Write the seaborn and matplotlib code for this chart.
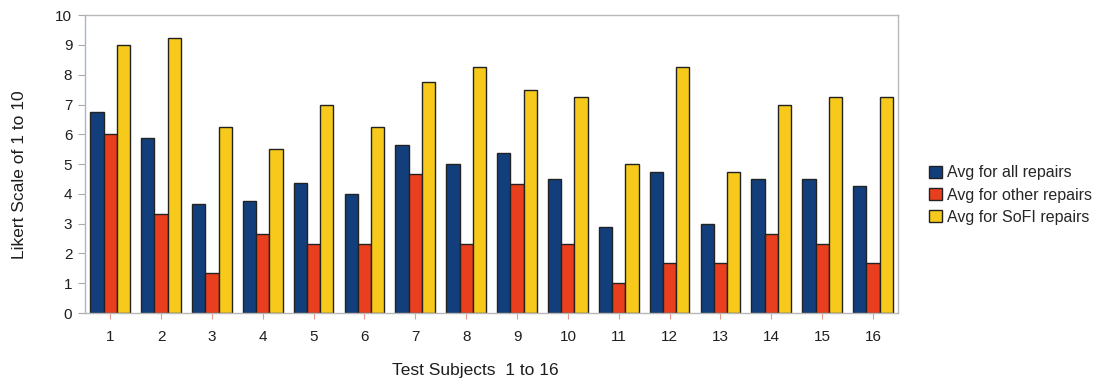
import matplotlib
matplotlib.use("Agg")
import matplotlib.pyplot as plt
import seaborn as sns
import pandas as pd

subjects = [str(i) for i in range(1, 17)]
avg_all = [6.75, 5.875, 3.67, 3.75, 4.375, 4.0, 5.625, 5.0, 5.375, 4.5, 2.875, 4.75, 3.0, 4.5, 4.5, 4.25]
avg_other = [6.0, 3.33, 1.33, 2.67, 2.33, 2.33, 4.67, 2.33, 4.33, 2.33, 1.0, 1.67, 1.67, 2.67, 2.33, 1.67]
avg_sofi = [9.0, 9.25, 6.25, 5.5, 7.0, 6.25, 7.75, 8.25, 7.5, 7.25, 5.0, 8.25, 4.75, 7.0, 7.25, 7.25]
series_names = ["Avg for all repairs", "Avg for other repairs", "Avg for SoFI repairs"]
colors = ["#123f7c", "#ea3f1f", "#f6c91a"]

df = pd.DataFrame({
    "subject": subjects * 3,
    "value": avg_all + avg_other + avg_sofi,
    "series": [series_names[0]] * 16 + [series_names[1]] * 16 + [series_names[2]] * 16,
})

sns.set_style("white")
plt.rcParams["font.family"] = ["Liberation Sans", "DejaVu Sans"]

fig = plt.figure(figsize=(11.01, 3.79), dpi=100)
ax = fig.add_axes([0.077, 0.174, 0.739, 0.786])

sns.barplot(data=df, x="subject", y="value", hue="series", order=subjects,
            hue_order=series_names, palette=colors, width=0.78,
            edgecolor="#222222", linewidth=1.0, saturation=1, ax=ax)

ax.set_ylim(0, 10)
ax.set_xlim(-0.5, 15.5)
ax.set_yticks(range(0, 11))
ax.tick_params(axis="y", which="both", left=True, length=5, color="#aaaaaa",
               labelsize=11, labelcolor="#1e1e1e", pad=4)
ax.tick_params(axis="x", which="both", bottom=True, length=4, color="#e89a8a",
               labelsize=11, labelcolor="#1e1e1e", pad=8)
ax.set_xlabel("Test Subjects  1 to 16", fontsize=12.5, color="#1e1e1e")
ax.set_ylabel("Likert Scale of 1 to 10", fontsize=12.5, color="#1e1e1e")
ax.xaxis.set_label_coords(0.480, -0.168)
ax.yaxis.set_label_coords(-0.071, 0.463)

for side in ["top", "right", "bottom"]:
    ax.spines[side].set_color("#b8b8b8")
    ax.spines[side].set_linewidth(1.0)
ax.spines["left"].set_color("#a8b4c8")
ax.spines["left"].set_linewidth(1.0)

handles, labels = ax.get_legend_handles_labels()
ax.legend(handles, labels, loc="center left", bbox_to_anchor=(1.030, 0.396),
          frameon=False, fontsize=11.5, handlelength=0.8, handleheight=0.8,
          handletextpad=0.3, labelspacing=0.45, borderaxespad=0)

fig.savefig("out.png", dpi=100)
